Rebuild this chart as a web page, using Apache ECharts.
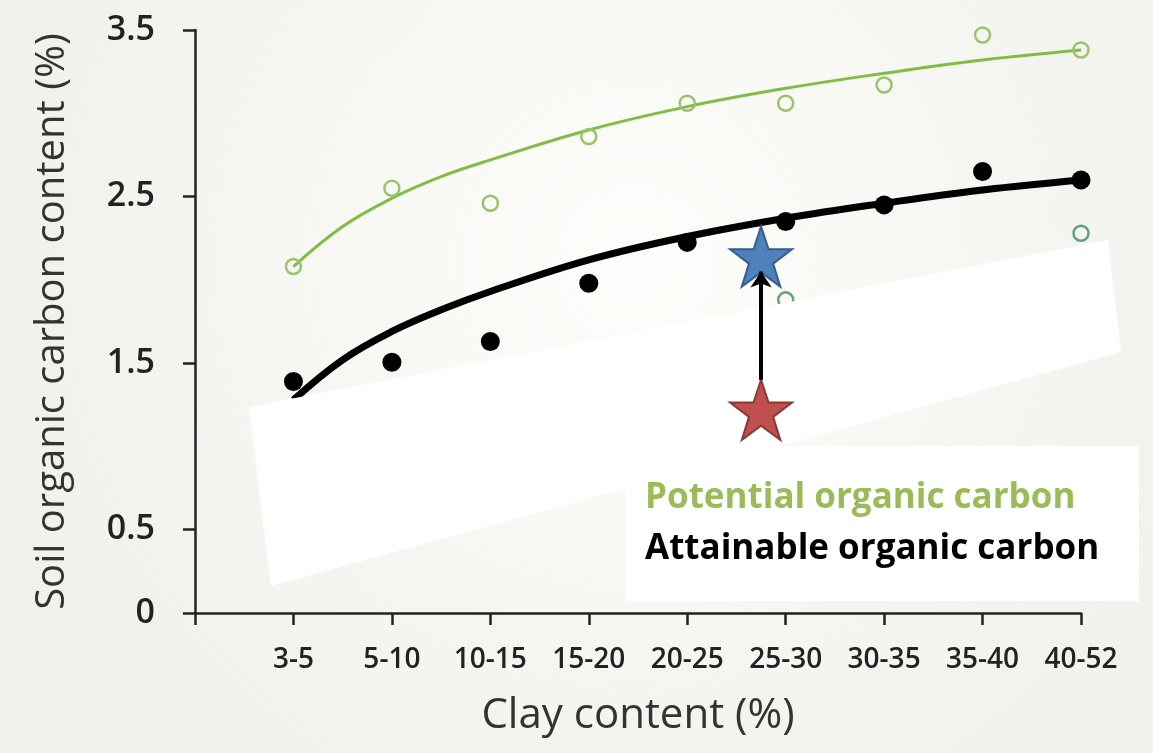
<!DOCTYPE html>
<html>
<head>
<meta charset="utf-8">
<script src="https://cdn.jsdelivr.net/npm/echarts@6/dist/echarts.min.js"></script>
<style>
html, body { margin: 0; padding: 0; }
#container { width: 1153px; height: 753px; }
</style>
</head>
<body>
<div id="container"></div>
<script>
var clayClasses = ['3-5', '5-10', '10-15', '15-20', '20-25', '25-30', '30-35', '35-40', '40-52'];
var yTicks = [0, 0.5, 1.5, 2.5, 3.5];

// measured points
var potentialSOC = [2.08, 2.55, 2.46, 2.86, 3.06, 3.06, 3.17, 3.47, 3.38];
var attainableSOC = [1.39, 1.505, 1.63, 1.98, 2.225, 2.35, 2.45, 2.65, 2.60];
var otherSOC = [null, null, null, null, null, 1.88, null, null, 2.28];

// fitted curves at these class positions
var fitX = [1, 1.5, 2, 2.5, 3, 4, 5, 6, 7, 8, 9];
var potentialFit = [2.08, 2.32, 2.49, 2.62, 2.72, 2.90, 3.04, 3.15, 3.24, 3.32, 3.38];
var attainableFit = [1.28, 1.52, 1.69, 1.82, 1.93, 2.12, 2.26, 2.37, 2.46, 2.54, 2.60];

// stars: current (red) and target (blue) level
var starX = 5.75;
var currentSOC = 1.22;
var targetSOC = 2.14;

function pairs(arr) {
    var out = [];
    for (var i = 0; i < arr.length; i++) {
        if (arr[i] !== null) out.push([i + 1, arr[i]]);
    }
    return out;
}

function fitPairs(arr) {
    var out = [];
    for (var i = 0; i < arr.length; i++) out.push([fitX[i], arr[i]]);
    return out;
}

var starPath = 'path://M50,0 L61.8,35.1 L98.9,35.1 L69,57.3 L80.3,92.7 L50,71 L19.7,92.7 L31,57.3 L1.1,35.1 L38.2,35.1 Z';

var dom = document.getElementById('container');
var myChart = echarts.init(dom);

var axisColor = '#222';
var option = {
    animation: false,
    backgroundColor: new echarts.graphic.RadialGradient(0.55, 0.35, 0.8, [
        { offset: 0, color: '#fdfdfb' },
        { offset: 1, color: '#f1f2ec' }
    ]),
    grid: { left: 195, right: 72, top: 30, bottom: 140 },
    xAxis: {
        type: 'value',
        min: 0,
        max: 9,
        interval: 1,
        name: 'Clay content (%)',
        nameLocation: 'middle',
        nameGap: 82,
        nameTextStyle: { fontFamily: 'Open Sans', fontSize: 42, color: '#333' },
        axisLine: { onZero: false, lineStyle: { color: axisColor, width: 2.5 } },
        axisTick: { length: 12, lineStyle: { color: axisColor, width: 2.5 } },
        axisLabel: {
            margin: 33,
            fontFamily: 'Open Sans',
            fontSize: 28,
            fontWeight: 600,
            color: '#222',
            formatter: function (v) { return clayClasses[v - 1] || ''; }
        },
        splitLine: { show: false }
    },
    yAxis: {
        type: 'value',
        min: 0,
        max: 3.5,
        name: 'Soil organic carbon content (%)',
        nameLocation: 'middle',
        nameRotate: 90,
        nameGap: 122,
        nameTextStyle: { fontFamily: 'Open Sans', fontSize: 40, color: '#333' },
        axisLine: { show: true, lineStyle: { color: axisColor, width: 2.5 } },
        axisTick: { show: true, length: 12, customValues: yTicks, lineStyle: { color: axisColor, width: 2.5 } },
        axisLabel: {
            margin: 40,
            customValues: yTicks,
            fontFamily: 'Open Sans',
            fontSize: 34,
            fontWeight: 600,
            color: '#222'
        },
        splitLine: { show: false }
    },
    series: [
        {
            name: 'Potential fit',
            type: 'line',
            data: fitPairs(potentialFit),
            smooth: 0.4,
            showSymbol: false,
            lineStyle: { color: '#80bd45', width: 3 },
            z: 2
        },
        {
            name: 'Attainable fit',
            type: 'line',
            data: fitPairs(attainableFit),
            smooth: 0.4,
            showSymbol: false,
            lineStyle: { color: '#000', width: 7 },
            z: 2
        },
        {
            name: 'Potential organic carbon',
            type: 'scatter',
            data: pairs(potentialSOC),
            symbol: 'circle',
            symbolSize: 15,
            itemStyle: { color: 'rgba(0,0,0,0)', borderColor: '#9cc26e', borderWidth: 2.5, opacity: 1 },
            z: 3
        },
        {
            name: 'Other',
            type: 'scatter',
            data: pairs(otherSOC),
            symbol: 'circle',
            symbolSize: 15,
            itemStyle: { color: 'rgba(0,0,0,0)', borderColor: '#5fa084', borderWidth: 2.5, opacity: 1 },
            z: 3
        },
        {
            name: 'Attainable organic carbon',
            type: 'scatter',
            data: pairs(attainableSOC),
            symbol: 'circle',
            symbolSize: 19,
            itemStyle: { color: '#000', opacity: 1 },
            z: 3
        },
        {
            name: 'Stars',
            type: 'scatter',
            symbol: starPath,
            symbolSize: [62, 60],
            data: [
                { value: [starX, targetSOC], itemStyle: { color: '#4f81bd', borderColor: '#385d8a', borderWidth: 2, opacity: 1 } },
                { value: [starX, currentSOC], itemStyle: { color: '#c0504d', borderColor: '#8c3836', borderWidth: 2, opacity: 1 } }
            ],
            markLine: {
                silent: true,
                z: 30,
                symbol: ['none', 'arrow'],
                symbolSize: [16, 16],
                label: { show: false },
                lineStyle: { color: '#000', width: 4, type: 'solid', opacity: 1 },
                data: [[
                    { coord: [starX, currentSOC + 0.18] },
                    { coord: [starX, targetSOC - 0.09] }
                ]]
            },
            z: 20
        }
    ],
    graphic: [
        {
            type: 'polygon',
            z: 10,
            shape: { points: [[249, 407], [1108, 240], [1121, 352], [271, 586]] },
            style: { fill: '#ffffff' }
        },
        {
            type: 'rect',
            z: 10,
            shape: { x: 625, y: 446, width: 514, height: 155 },
            style: { fill: '#ffffff' }
        },
        {
            type: 'text',
            z: 11,
            x: 645,
            y: 498,
            style: {
                text: 'Potential organic carbon',
                font: 'bold 35px "Open Sans"',
                fill: '#9bbb59',
                verticalAlign: 'middle'
            }
        },
        {
            type: 'text',
            z: 11,
            x: 645,
            y: 549,
            style: {
                text: 'Attainable organic carbon',
                font: 'bold 35px "Open Sans"',
                fill: '#000',
                verticalAlign: 'middle'
            }
        }
    ]
};

if (option && typeof option === 'object') {
    myChart.setOption(option, true);
}
</script>
</body>
</html>
